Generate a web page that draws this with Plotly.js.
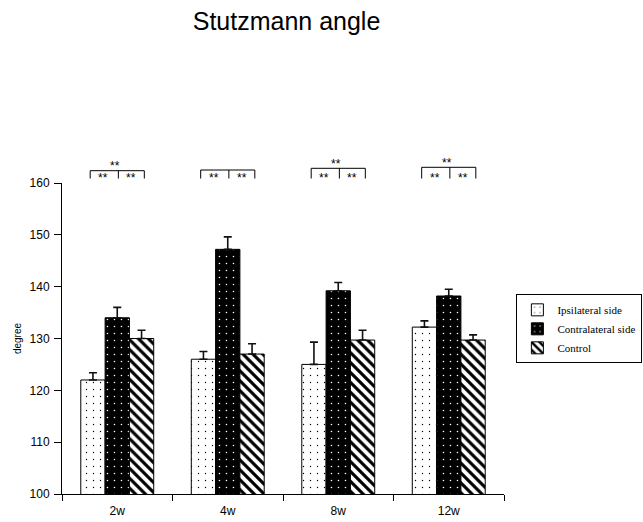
<!DOCTYPE html>
<html>
<head>
<meta charset="utf-8">
<script src="https://cdn.plot.ly/plotly-3.0.1.min.js"></script>
<style>html,body{margin:0;padding:0;background:#fff;}#chart{width:643px;height:522px;}</style>
</head>
<body>
<div id="chart"></div>
<script>
// ---- data ----
var categories = ['2w', '4w', '8w', '12w'];
var seriesNames = ['Ipsilateral side', 'Contralateral side', 'Control'];
var ipsiMean = [122, 126, 125, 132.2];
var ipsiErr = [1.4, 1.5, 4.3, 1.2];
var contraMean = [134, 147.2, 139.2, 138.2];
var contraErr = [2.0, 2.4, 1.6, 1.3];
var controlMean = [130, 127, 129.7, 129.7];
var controlErr = [1.6, 2.0, 1.9, 1.0];
// significance marks: overall (top) and pairwise (ipsi-contra, contra-control)
var sigOverall = ['**', '', '**', '**'];
var sigPairLeft = ['**', '**', '**', '**'];
var sigPairRight = ['**', '**', '**', '**'];
var yTicks = [100, 110, 120, 130, 140, 150, 160];

var sansFont = '"Liberation Sans", Arial, sans-serif';
var serifFont = '"Liberation Serif", "Times New Roman", serif';

function zeros(n) { var a = []; for (var i = 0; i < n; i++) a.push(0); return a; }

function barTrace(name, y, err, pattern) {
  return {
    type: 'bar',
    name: name,
    x: categories,
    y: y,
    marker: {
      color: pattern.bgcolor,
      line: {color: '#000', width: 1},
      pattern: pattern
    },
    error_y: {
      type: 'data', symmetric: false, array: err, arrayminus: zeros(err.length),
      color: '#111', thickness: 1.6, width: 4
    },
    hoverinfo: 'x+y+name'
  };
}

var traces = [
  barTrace(seriesNames[0], ipsiMean, ipsiErr,
    {shape: '.', fgcolor: '#000', bgcolor: '#fff', size: 7, solidity: 0.03, fillmode: 'replace'}),
  barTrace(seriesNames[1], contraMean, contraErr,
    {shape: '.', fgcolor: '#fff', bgcolor: '#000', size: 7, solidity: 0.04, fillmode: 'replace'}),
  barTrace(seriesNames[2], controlMean, controlErr,
    {shape: '\\', fgcolor: '#000', bgcolor: '#fff', size: 7, solidity: 0.45, fillmode: 'replace'})
];

// ---- significance brackets (positions in paper units above the plot) ----
// plot area: y pixel 494 -> paper 0, 183 -> paper 1
function pyPaper(px) { return (494 - px) / 311; }
var bracketLinePx = [170.7, 170, 168.3, 167.3];
var topTextPx = [165.5, 0, 164, 163];
var tickBottomPx = 178.5, pairTextPx = 177.5;
var half = 0.245;
var shapes = [], annotations = [];
for (var i = 0; i < categories.length; i++) {
  var L = i - half, R = i + half, M = i + 0.01;
  var ly = pyPaper(bracketLinePx[i]), by = pyPaper(tickBottomPx);
  var ln = {color: '#000', width: 1};
  shapes.push({type: 'line', xref: 'x', yref: 'paper', x0: L, x1: R, y0: ly, y1: ly, line: ln});
  shapes.push({type: 'line', xref: 'x', yref: 'paper', x0: L, x1: L, y0: ly, y1: by, line: ln});
  shapes.push({type: 'line', xref: 'x', yref: 'paper', x0: M, x1: M, y0: ly, y1: by, line: ln});
  shapes.push({type: 'line', xref: 'x', yref: 'paper', x0: R, x1: R, y0: ly, y1: by, line: ln});
  var f = {family: sansFont, size: 12, color: '#000'};
  annotations.push({xref: 'x', yref: 'paper', x: i - 0.125, y: pyPaper(pairTextPx), text: sigPairLeft[i], showarrow: false, font: f, xanchor: 'center', yanchor: 'middle'});
  annotations.push({xref: 'x', yref: 'paper', x: i + 0.125, y: pyPaper(pairTextPx), text: sigPairRight[i], showarrow: false, font: f, xanchor: 'center', yanchor: 'middle'});
  if (sigOverall[i]) {
    annotations.push({xref: 'x', yref: 'paper', x: i - 0.02, y: pyPaper(topTextPx[i]), text: sigOverall[i], showarrow: false, font: f, xanchor: 'center', yanchor: 'middle'});
  }
}

var layout = {
  width: 643, height: 522,
  margin: {l: 62, r: 139, t: 183, b: 28, pad: 0, autoexpand: false},
  paper_bgcolor: '#fff', plot_bgcolor: '#fff',
  title: {
    text: 'Stutzmann angle',
    font: {family: sansFont, size: 25, color: '#000'},
    x: 0.4456, xref: 'container', xanchor: 'center',
    y: 0.96, yref: 'container', yanchor: 'middle'
  },
  barmode: 'group',
  bargap: 0.34,
  bargroupgap: 0,
  xaxis: {
    type: 'category',
    showline: true, linecolor: '#000', linewidth: 1,
    ticks: 'outside', tickson: 'boundaries', ticklen: 6, tickcolor: '#000', tickwidth: 1,
    showgrid: false, zeroline: false,
    ticklabelstandoff: 6,
    tickfont: {family: sansFont, size: 12, color: '#000'}
  },
  yaxis: {
    range: [100, 160],
    tickvals: yTicks,
    ticktext: yTicks.map(String),
    showline: true, linecolor: '#000', linewidth: 1,
    ticks: 'outside', ticklen: 7, tickcolor: '#000', tickwidth: 1,
    showgrid: false, zeroline: false,
    ticklabelstandoff: 2,
    tickfont: {family: sansFont, size: 12, color: '#000'},
    title: {text: 'degree', font: {family: sansFont, size: 10, color: '#000'}, standoff: 6}
  },
  legend: {
    x: 1.028, xanchor: 'left', y: 0.642, yanchor: 'top',
    bordercolor: '#000', borderwidth: 1, bgcolor: '#fff',
    font: {family: serifFont, size: 11, color: '#000'},
    tracegroupgap: 0
  },
  shapes: shapes,
  annotations: annotations,
  showlegend: true
};

Plotly.newPlot('chart', traces, layout, {displayModeBar: false, staticPlot: true});
</script>
</body>
</html>
